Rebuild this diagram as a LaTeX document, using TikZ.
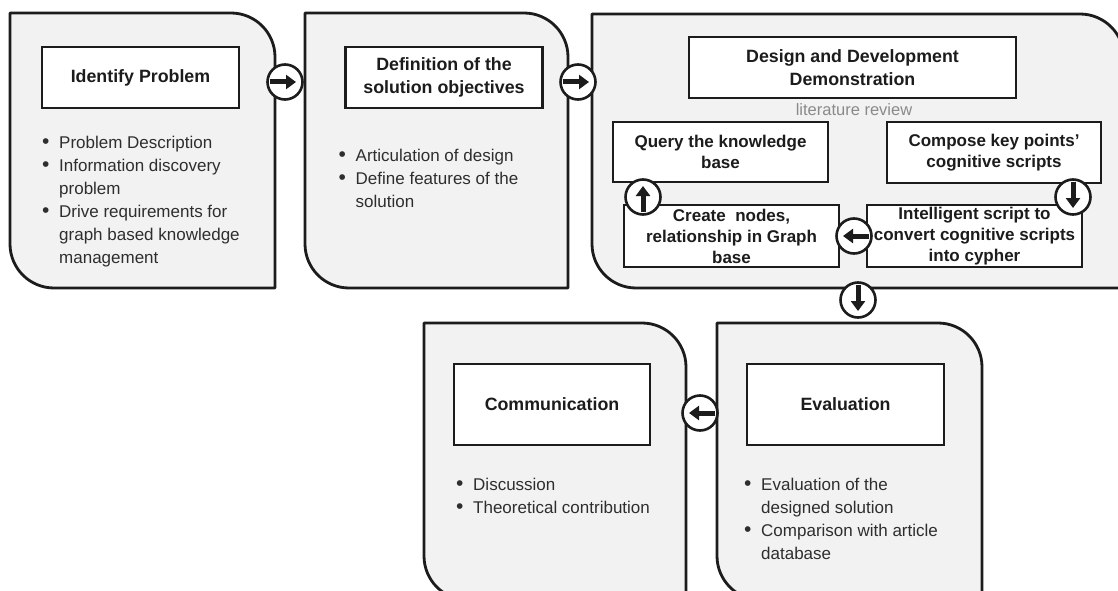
\documentclass[tikz,border=0pt]{standalone}
\usepackage{fontspec}
\setmainfont{Liberation Sans}
\usetikzlibrary{arrows.meta,calc}
\definecolor{panelgray}{HTML}{F2F2F2}
\definecolor{revgray}{HTML}{8A8A8A}
\definecolor{inkdark}{HTML}{1C1C1C}
\definecolor{bodyink}{HTML}{2E2E2E}
\tikzset{
  panel/.style={draw=inkdark, line width=2.8pt, fill=panelgray, line join=round},
  titlebox/.style={draw=inkdark, line width=2.8pt, fill=white, align=center, inner sep=0pt,
    text=inkdark, font=\bfseries\fontsize{17.8}{23}\selectfont},
  smallbox/.style={titlebox, font=\bfseries\fontsize{17}{21}\selectfont},
  listtext/.style={anchor=base west, inner sep=0pt, text=bodyink, font=\fontsize{17}{23}\selectfont},
  stepicon/.style={circle, draw=inkdark, line width=2.6pt, fill=white, minimum size=35pt, inner sep=0pt},
  iconarrow/.style={draw=inkdark, line width=5pt, -{Triangle[length=10pt,width=14pt]}},
  reviewtext/.style={inner sep=0pt, text=revgray, font=\fontsize{16.5}{19}\selectfont}
}
\newcommand{\bl}{\raisebox{-0.6pt}{\fontsize{21}{23}\selectfont\textbullet}}
\begin{document}
\begin{tikzpicture}[x=1pt,y=-1pt]
\useasboundingbox (0,0) rectangle (1118,591);
\fill[white] (0,0) rectangle (1118,591);
\begin{scope}
\clip (0,0) rectangle (1118,591);
% panel 1
\draw[panel] (10,13) -- (231,13) .. controls (255.3,13) and (275,32.7) .. (275,57) -- (275,288) -- (54,288) .. controls (29.7,288) and (10,268.3) .. (10,244) -- cycle;
% panel 2
\draw[panel] (305,13) -- (524,13) .. controls (548.3,13) and (568,32.7) .. (568,57) -- (568,288) -- (349,288) .. controls (324.7,288) and (305,268.3) .. (305,244) -- cycle;
% panel 3
\draw[panel] (592,14) -- (1080,14) .. controls (1104.3,14) and (1124,33.7) .. (1124,58) -- (1124,288) -- (636,288) .. controls (611.7,288) and (592,268.3) .. (592,244) -- cycle;
% panel 4
\draw[panel] (424,323) -- (642,323) .. controls (666.3,323) and (686,342.7) .. (686,367) -- (686,600) -- (468,600) .. controls (443.7,600) and (424,580.3) .. (424,556) -- cycle;
% panel 5
\draw[panel] (717,323) -- (938,323) .. controls (962.3,323) and (982,342.7) .. (982,367) -- (982,600) -- (761,600) .. controls (736.7,600) and (717,580.3) .. (717,556) -- cycle;
\end{scope}

% title boxes
\node[titlebox, minimum width=197pt, minimum height=61pt] (identify) at (140.5,77.5) {Identify Problem};
\node[titlebox, minimum width=197pt, minimum height=61pt] (definition) at (444,77.5) {Definition of the\\solution objectives};
\node[titlebox, minimum width=327pt, minimum height=61pt] (design) at (852.5,67.5) {Design and Development\\Demonstration};
\node[reviewtext] (review) at (854,110) {literature review};
\node[smallbox, minimum width=215pt, minimum height=60pt] (query) at (720.5,152) {Query the knowledge\\base};
\node[smallbox, minimum width=214pt, minimum height=61pt] (compose) at (994,152.5) {Compose key points’\\cognitive scripts};
\node[smallbox, minimum width=215pt, minimum height=62pt] (create) at (731.5,236) {Create~ nodes,\\relationship in Graph\\base};
\node[smallbox, minimum width=215pt, minimum height=62pt] (intelligent) at (974.5,236) {Intelligent script to\\convert cognitive scripts\\into cypher};
\node[titlebox, minimum width=196pt, minimum height=81pt] (communication) at (552,404.5) {Communication};
\node[titlebox, minimum width=197pt, minimum height=81pt] (evaluation) at (845.5,404.5) {Evaluation};

% bullet lists
\node[listtext] (list1) at (42,148) {\begin{tabular}[t]{@{}p{17pt}@{}l@{}}
\bl & Problem Description\\
\bl & Information discovery\\
    & problem\\
\bl & Drive requirements for\\
    & graph based knowledge\\
    & management
\end{tabular}};
\node[listtext] (list2) at (338.5,161) {\begin{tabular}[t]{@{}p{17pt}@{}l@{}}
\bl & Articulation of design\\
\bl & Define features of the\\
    & solution
\end{tabular}};
\node[listtext] (list4) at (456,490) {\begin{tabular}[t]{@{}p{17pt}@{}l@{}}
\bl & Discussion\\
\bl & Theoretical contribution
\end{tabular}};
\node[listtext] (list5) at (744,490) {\begin{tabular}[t]{@{}p{17pt}@{}l@{}}
\bl & Evaluation of the\\
    & designed solution\\
\bl & Comparison with article\\
    & database
\end{tabular}};

% connector icons
\node[stepicon] (c1) at (285,82) {};
\draw[iconarrow] ($(c1.center)+(-15,0)$) -- ($(c1.center)+(11,0)$);
\node[stepicon] (c2) at (578,82) {};
\draw[iconarrow] ($(c2.center)+(-15,0)$) -- ($(c2.center)+(11,0)$);
\node[stepicon] (c3) at (643,197) {};
\draw[iconarrow] ($(c3.center)+(0,15)$) -- ($(c3.center)+(0,-11)$);
\node[stepicon] (c4) at (1073,197) {};
\draw[iconarrow] ($(c4.center)+(0,-15)$) -- ($(c4.center)+(0,11)$);
\node[stepicon] (c5) at (854,236) {};
\draw[iconarrow] ($(c5.center)+(15,0)$) -- ($(c5.center)+(-11,0)$);
\node[stepicon] (c6) at (858,300) {};
\draw[iconarrow] ($(c6.center)+(0,-15)$) -- ($(c6.center)+(0,11)$);
\node[stepicon] (c7) at (700,413) {};
\draw[iconarrow] ($(c7.center)+(15,0)$) -- ($(c7.center)+(-11,0)$);
\end{tikzpicture}
\end{document}
